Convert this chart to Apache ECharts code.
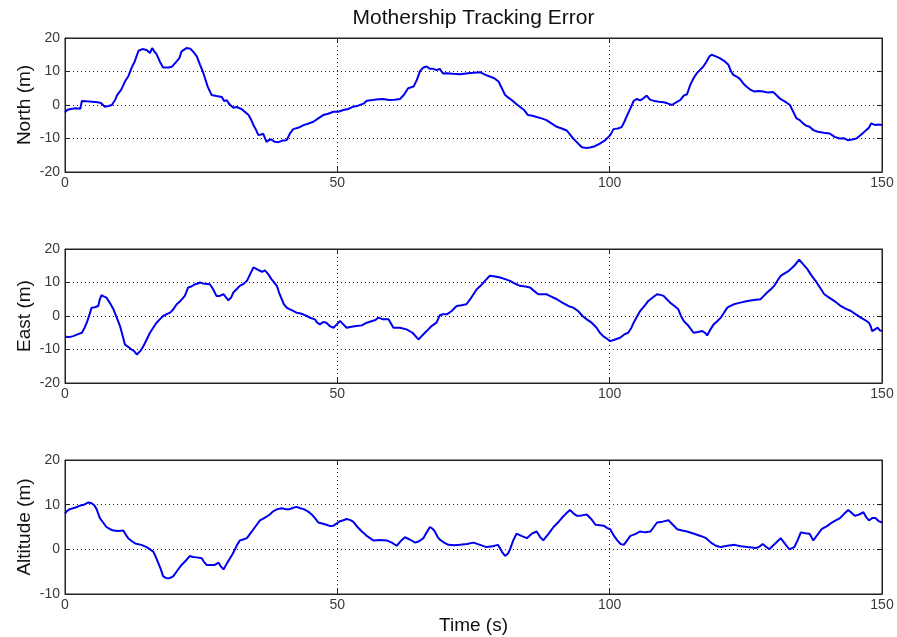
<!DOCTYPE html>
<html>
<head>
<meta charset="utf-8">
<script src="https://cdn.jsdelivr.net/npm/echarts@6/dist/echarts.min.js"></script>
<style>
  html, body { margin: 0; padding: 0; background: #fff; }
  #chart { width: 897px; height: 637px; }
</style>
</head>
<body>
<div id="chart"></div>
<script>
// Tracking error samples: [time (s), error (m)]
const northError = [[0,-2.2],[0.4,-1.5],[1,-1.2],[2,-1],[2.8,-1.1],[3.1,1.2],[4,1.1],[5,1],[6,0.8],[6.6,0.6],[7.3,-0.5],[8,-0.3],[8.6,0],[9.2,1.5],[9.6,3],[10.3,4.5],[11,7],[11.6,8.5],[12.2,11],[12.8,13],[13.5,16.2],[14.2,16.7],[15,16.4],[15.6,15.5],[16,17],[16.4,16],[16.8,15.2],[17.4,13],[18,11.2],[19,11.2],[19.6,11.4],[20.5,13],[21,14],[21.4,16],[22.3,17],[23,16.8],[23.5,16],[24.2,14.5],[24.8,12],[25.3,10],[25.7,8],[26.2,5.5],[26.9,3],[27.8,2.7],[28.8,2.4],[29.2,1.2],[29.7,1.4],[30.2,0.2],[30.9,-0.8],[31.5,-0.6],[32.4,-1.2],[33,-2],[33.7,-3],[34.2,-4.5],[34.6,-6],[35.1,-7.5],[35.5,-9],[36,-8.8],[36.4,-8.6],[37,-11],[37.5,-10.4],[37.9,-10.3],[38.5,-11],[39.2,-11.1],[40,-10.6],[40.7,-10.5],[41.3,-8.5],[41.9,-7.2],[42.8,-6.8],[43.8,-6],[44.6,-5.6],[45.6,-5],[46.5,-4],[47.4,-3],[48.3,-2.6],[49.3,-2],[50.2,-2],[51.1,-1.5],[52,-1.2],[52.9,-0.5],[53.8,-0.2],[54.8,0.4],[55.4,1.3],[56.5,1.5],[57.5,1.7],[58.4,1.8],[59.5,1.5],[60.5,1.6],[61.5,1.8],[62.2,3],[63,5],[64,5.5],[64.6,7.5],[65.2,10.2],[65.8,11.2],[66.4,11.5],[67,10.8],[67.6,10.8],[68.2,10.4],[68.8,10.8],[69.4,9.4],[70.1,9.5],[71.2,9.3],[72.5,9.2],[74,9.5],[75,9.6],[76.2,9.8],[77.2,9],[78,8.5],[78.8,8],[79.6,7],[80.2,5],[80.8,3],[81.4,2.2],[82,1.5],[82.7,0.5],[83.5,-0.5],[84.3,-1.5],[85,-3],[85.8,-3.2],[86.6,-3.6],[87.5,-4],[88.4,-4.5],[89.3,-5.5],[90.3,-6.5],[91.2,-7],[92.1,-7.6],[92.7,-8.8],[93.3,-10],[94.1,-11.3],[94.9,-12.6],[95.6,-12.8],[96.4,-12.7],[97.3,-12.3],[98.2,-11.5],[99.2,-10.5],[100.1,-9],[100.7,-7.2],[101.5,-7],[102.2,-6.6],[102.7,-5],[103.1,-3.5],[103.8,-1],[104.4,1.2],[105,1.8],[105.6,1.4],[106.2,2],[106.8,2.8],[107.4,1.6],[108,1.3],[109,1],[109.9,0.8],[110.6,0.5],[111.4,0],[112.2,0.8],[113,1.5],[113.6,2.8],[114.2,3.2],[114.8,6],[115.4,8],[116,9.5],[116.6,10.5],[117.2,11.5],[117.8,13],[118.3,14.5],[118.7,15],[119.4,14.6],[120.2,14],[121,13.2],[121.8,12],[122.3,10],[122.7,9],[123.3,8.5],[123.9,7.8],[124.5,6.5],[125.1,5.5],[125.8,4.6],[126.6,4],[127.4,4.2],[128.2,4],[129.1,3.7],[130,3.9],[130.6,3],[131.2,2],[132.2,1],[133.1,0],[133.7,-2],[134.3,-4],[134.9,-4.5],[135.5,-5.5],[136.1,-6.2],[136.7,-6.5],[137.4,-7.5],[138.2,-8],[139.3,-8.3],[140.4,-8.5],[141.3,-9.5],[142.2,-10],[143,-9.9],[143.7,-10.5],[144.5,-10.3],[145.3,-10],[146.2,-8.8],[147.1,-7.5],[147.6,-6.8],[148,-5.5],[148.8,-6],[149.4,-5.8],[150,-6]];

const eastError = [[0,-6.2],[0.8,-6.3],[1.5,-6],[2.3,-5.5],[3.1,-5],[3.6,-3.5],[4,-2],[4.5,0.5],[4.9,2.5],[5.5,2.6],[6.1,3],[6.4,5],[6.7,6.2],[7.2,5.8],[7.6,5.5],[8.2,4],[8.9,2],[9.5,-0.5],[10.1,-3],[10.6,-6],[11,-8.5],[11.6,-9.2],[12.2,-10],[12.7,-10.5],[13.2,-11.5],[13.8,-10.5],[14.4,-9],[15,-7],[15.6,-5],[16.2,-3.5],[16.8,-2],[17.4,-1],[18,0],[18.6,0.5],[19.3,1],[19.9,2],[20.5,3.5],[21.2,4.5],[22,6],[22.6,8.5],[23.2,8.8],[23.9,9.5],[24.4,9.7],[24.8,10],[25.6,9.6],[26.6,9.5],[27.2,8],[27.8,6],[28.4,6],[29.1,6.5],[29.6,5.5],[30,4.7],[30.5,5.5],[30.9,7],[31.5,8],[32.1,9],[32.7,9.5],[33.4,10.5],[34,12.5],[34.6,14.5],[35.2,14],[35.8,13.5],[36.2,13.2],[36.7,13.6],[37.3,12.5],[37.9,11],[38.4,10],[38.9,9],[39.3,7],[39.8,5],[40.2,3.5],[40.7,2.5],[41.3,2],[41.9,1.5],[42.5,1],[43.1,0.8],[43.7,0.5],[44.4,0],[45.1,-0.6],[45.9,-1],[46.3,-2],[46.8,-2.5],[47.4,-1.8],[48,-2],[48.6,-3],[49.3,-3.5],[49.9,-2.5],[50.5,-1.5],[51.1,-2.5],[51.7,-3.5],[52.6,-3.2],[53.5,-3],[54.5,-2.8],[55.4,-2],[56.4,-1.5],[57,-1.2],[57.5,-0.5],[58.4,-1],[59.4,-1],[60.3,-3.5],[61.5,-3.5],[62.7,-4],[63.8,-5],[64.9,-7],[65.6,-5.8],[66.4,-4.5],[67.3,-3],[68.2,-2],[68.8,0.2],[69.4,0.5],[70.1,0.5],[71,1.5],[71.9,3],[72.8,3.2],[73.7,3.5],[74.6,5.5],[75.6,8],[76.3,9],[77.1,10.5],[78,12],[79,11.8],[79.9,11.5],[80.8,11],[81.7,10.5],[82.6,9.7],[83.5,9],[84.5,8.8],[85.4,8.5],[86.1,7.5],[86.9,6.5],[87.6,6.5],[88.4,6.5],[89.3,5.8],[90.3,5],[91.3,4],[92.4,3],[93.3,2.5],[94.2,1.5],[95,0],[95.8,-1],[96.7,-2],[97.6,-3.5],[98.2,-5],[98.8,-6],[99.5,-6.8],[100.1,-7.5],[101,-7],[101.9,-6.5],[102.7,-5.5],[103.4,-5],[104,-3.5],[104.4,-2],[105,-0.2],[105.6,1.5],[106.4,3],[107.1,4.5],[107.9,5.5],[108.7,6.5],[109.3,6.3],[109.9,6],[110.5,5],[111.1,4],[111.9,3],[112.6,2],[113.1,0],[113.6,-1.5],[114.5,-3],[115.4,-5],[116.2,-4.8],[117,-4.5],[117.5,-5],[117.9,-5.8],[118.5,-4],[119.1,-2.5],[119.8,-1.5],[120.4,-0.5],[121,1],[121.6,2.5],[122.2,3],[122.8,3.5],[124,4],[125.3,4.5],[126.5,4.8],[127.7,5],[128.3,6],[128.9,7],[129.6,8],[130.2,9],[130.8,10.5],[131.4,12],[132.2,12.8],[132.9,13.5],[133.9,15],[134.8,16.8],[135.5,15.5],[136.3,14],[137,12.2],[137.8,10.5],[138.6,8.5],[139.4,6.5],[140.3,5.5],[141.2,4.5],[141.8,3.8],[142.4,3],[143.3,2.2],[144.3,1.5],[145.2,0.5],[146.1,-0.5],[146.9,-1.2],[147.6,-2],[147.9,-3],[148.2,-4.5],[148.7,-4],[149.2,-3.5],[149.6,-4.3],[150,-4.5]];

const altitudeError = [[0,8],[0.4,8.6],[0.9,9],[1.8,9.3],[2.8,9.8],[3.5,10],[4.3,10.5],[4.9,10.3],[5.4,9.8],[5.8,9],[6.1,8],[6.4,7],[7,6],[7.6,5],[8.3,4.5],[8.9,4.2],[9.8,4.1],[10.7,4.2],[11.2,3.2],[11.6,2.5],[12.3,1.8],[12.9,1.3],[14,1],[15,0.5],[15.6,0],[16.2,-0.5],[16.6,-1.5],[17.1,-3],[17.6,-4.5],[18,-6],[18.5,-6.4],[19,-6.5],[19.5,-6.3],[19.9,-6],[20.6,-4.8],[21.4,-3.5],[22.2,-2.5],[22.9,-1.5],[23.5,-1.7],[24.2,-1.8],[25.1,-2],[25.5,-2.8],[26,-3.5],[26.8,-3.5],[27.5,-3.5],[28.2,-3],[28.6,-3.8],[29.1,-4.5],[29.7,-3.2],[30.3,-2],[30.8,-1],[31.2,0],[31.6,1],[32.1,2],[32.7,2.2],[33.4,2.5],[34,3.5],[34.6,4.5],[35.2,5.5],[35.8,6.5],[36.4,6.9],[37,7.3],[37.6,7.8],[38.2,8.5],[39,9],[39.8,9.2],[40.5,9],[41.3,9],[41.9,9.3],[42.5,9.5],[43.2,9.2],[43.8,9],[44.6,8.5],[45.3,7.8],[45.9,7],[46.5,6],[47.2,5.8],[48,5.5],[48.7,5.2],[49.3,5.3],[49.9,5.8],[50.5,6.3],[51.1,6.5],[51.7,6.8],[52.3,6.6],[52.9,6.2],[53.7,5],[54.5,4],[55,3.5],[55.4,3],[56,2.5],[56.6,2],[57.8,2.1],[59.1,2],[60,1.5],[60.9,0.8],[61.6,1.8],[62.4,2.7],[63.3,2.2],[64.3,1.5],[65,1.8],[65.8,2.5],[66.4,3.8],[67,5],[67.5,4.6],[67.9,4],[68.4,2.8],[68.8,2.2],[69.6,1.5],[70.4,1],[71.4,0.9],[72.5,1],[73.8,1.2],[75,1.5],[76.2,1],[77.4,0.5],[78.5,0.7],[79.5,1],[80.2,-0.5],[80.8,-1.5],[81.3,-1],[81.7,0],[82.3,2],[82.9,3.5],[83.8,3],[84.8,2.5],[85.7,3.5],[86.6,4],[87.2,2.8],[87.8,2],[88.8,3.5],[89.7,5],[90.5,6],[91.2,7],[92,8],[92.7,8.8],[93.4,8],[94,7.5],[94.9,7.6],[95.8,7.8],[96.6,6.8],[97.4,5.5],[98.2,5.4],[98.9,5.3],[99.5,4.8],[100.1,4.5],[100.8,3],[101.4,2],[102,1.2],[102.6,1],[103.2,2],[103.8,3],[104.7,3.4],[105.6,4],[106.5,3.8],[107.5,4],[108.1,5],[108.7,6],[109.7,6.2],[110.8,6.5],[111.6,5.5],[112.4,4.5],[113.3,4.2],[114.2,4],[115.5,3.5],[116.7,3],[117.7,2.5],[118.6,1.5],[119.5,0.8],[120.4,0.5],[121.6,0.8],[122.9,1],[124.1,0.7],[125.3,0.5],[126.1,0.4],[126.8,0.3],[127.4,0.5],[128.1,1.2],[128.7,0.6],[129.3,0],[130.3,1.2],[131.4,2.5],[132.2,1.2],[133,0],[133.9,0.5],[134.5,2],[135.1,3.8],[135.9,3.6],[136.7,3.5],[137.4,2],[138.1,3.2],[138.9,4.5],[139.9,5.2],[140.8,6],[141.5,6.5],[142.3,7],[143.1,8],[143.8,8.8],[144.4,8.2],[145,7.5],[145.8,7.8],[146.6,8.3],[147.1,7.2],[147.6,6.5],[148.2,7],[148.8,7],[149.4,6.3],[150,6]];

// Axis ranges and labels
const timeRange = { min: 0, max: 150, interval: 50 };
const panelNames = ['North (m)', 'East (m)', 'Altitude (m)'];
const panelRanges = [
  { min: -20, max: 20, interval: 10 },
  { min: -20, max: 20, interval: 10 },
  { min: -10, max: 20, interval: 10 }
];
const titleText = 'Mothership Tracking Error';
const timeLabel = 'Time (s)';

const FONT = 'Arial, "Liberation Sans", Helvetica, sans-serif';
const panelTops = [38, 249, 460];
const PANEL_H = 134;
const PANEL_L = 65;
const PANEL_W = 817;

const dotted = { type: [1, 3], color: '#222', width: 1 };

const grids = [], xAxes = [], yAxes = [], series = [];
const seriesData = [northError, eastError, altitudeError];

panelTops.forEach((top, i) => {
  grids.push({
    left: PANEL_L, top: top, width: PANEL_W, height: PANEL_H,
    show: true, borderColor: '#222', borderWidth: 1, backgroundColor: '#fff'
  });
  // bottom time axis with labels
  xAxes.push({
    type: 'value', gridIndex: i, position: 'bottom',
    min: timeRange.min, max: timeRange.max, interval: timeRange.interval,
    axisLine: { show: true, onZero: false, lineStyle: { color: '#222', width: 1 } },
    axisTick: { show: true, inside: true, length: 5, lineStyle: { color: '#222' } },
    axisLabel: { show: true, margin: 4, fontSize: 14, color: '#3a3a3a', fontFamily: FONT },
    splitLine: { show: true, lineStyle: dotted },
    name: i === 2 ? timeLabel : '',
    nameLocation: 'middle', nameGap: 22, nameMoveOverlap: false,
    nameTextStyle: { fontSize: 19, color: '#111', fontFamily: FONT }
  });
  // mirrored top axis carrying only tick marks
  xAxes.push({
    type: 'value', gridIndex: i, position: 'top',
    min: timeRange.min, max: timeRange.max, interval: timeRange.interval,
    axisLine: { show: true, onZero: false, lineStyle: { color: '#222', width: 1 } },
    axisTick: { show: true, inside: true, length: 5, lineStyle: { color: '#222' } },
    axisLabel: { show: false }, splitLine: { show: false }
  });
  const r = panelRanges[i];
  yAxes.push({
    type: 'value', gridIndex: i, position: 'left',
    min: r.min, max: r.max, interval: r.interval,
    axisLine: { show: true, onZero: false, lineStyle: { color: '#222', width: 1 } },
    axisTick: { show: true, inside: true, length: 5, lineStyle: { color: '#222' } },
    axisLabel: { show: true, margin: 5, fontSize: 14, color: '#3a3a3a', fontFamily: FONT },
    splitLine: { show: true, lineStyle: dotted },
    name: panelNames[i], nameLocation: 'middle', nameGap: 31, nameMoveOverlap: false,
    nameTextStyle: { fontSize: 19, color: '#111', fontFamily: FONT }
  });
  yAxes.push({
    type: 'value', gridIndex: i, position: 'right',
    min: r.min, max: r.max, interval: r.interval,
    axisLine: { show: true, onZero: false, lineStyle: { color: '#222', width: 1 } },
    axisTick: { show: true, inside: true, length: 5, lineStyle: { color: '#222' } },
    axisLabel: { show: false }, splitLine: { show: false }
  });
  series.push({
    type: 'line', xAxisIndex: i * 2, yAxisIndex: i * 2,
    data: seriesData[i], showSymbol: false, symbol: 'none',
    lineStyle: { color: '#0000ee', width: 2 }, animation: false,
    clip: true
  });
});

const chart = echarts.init(document.getElementById('chart'), null, { renderer: 'canvas' });
chart.setOption({
  backgroundColor: '#fff',
  animation: false,
  graphic: [{
    type: 'text', x: PANEL_L + PANEL_W / 2, y: 18,
    style: {
      text: titleText, fontSize: 21, fontFamily: FONT, fill: '#111',
      textAlign: 'center', textVerticalAlign: 'middle'
    }
  }],
  grid: grids,
  xAxis: xAxes,
  yAxis: yAxes,
  series: series
});
</script>
</body>
</html>
